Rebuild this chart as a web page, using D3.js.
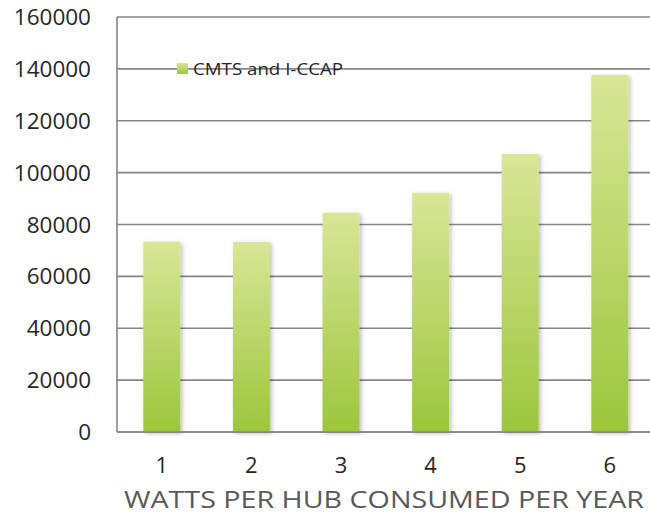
<!DOCTYPE html>
<html>
<head>
<meta charset="utf-8">
<script src="https://cdn.jsdelivr.net/npm/d3@7"></script>
<style>
  body { margin: 0; background: #fff; }
  svg { display: block; font-family: "Open Sans", sans-serif; }
</style>
</head>
<body>
<div id="chart"></div>
<script>
// data
const categories = ["1", "2", "3", "4", "5", "6"];
const values = [73400, 73300, 84500, 92200, 107200, 137600];
const seriesName = "CMTS and I-CCAP";
const yTicks = [0, 20000, 40000, 60000, 80000, 100000, 120000, 140000, 160000];
const xTitle = "WATTS PER HUB CONSUMED PER YEAR";

const width = 650, height = 516;
const plotLeft = 117, plotTop = 17, plotH = 415;
const step = 89.6;

const svg = d3.select("#chart")
	.append("svg")
	.attr("width", width)
	.attr("height", height);

const defs = svg.append("defs");
const grad = defs.append("linearGradient")
	.attr("id", "barGrad")
	.attr("x1", 0).attr("y1", 0).attr("x2", 0).attr("y2", 1);
grad.append("stop").attr("offset", "0%").attr("stop-color", "#d9e697");
grad.append("stop").attr("offset", "100%").attr("stop-color", "#9cc63b");

const legGrad = defs.append("linearGradient")
	.attr("id", "legGrad")
	.attr("x1", 0).attr("y1", 0).attr("x2", 0).attr("y2", 1);
legGrad.append("stop").attr("offset", "0%").attr("stop-color", "#d9e697");
legGrad.append("stop").attr("offset", "100%").attr("stop-color", "#9cc63b");

const shadow = defs.append("filter")
	.attr("id", "shadow")
	.attr("x", "-30%").attr("y", "-10%").attr("width", "160%").attr("height", "120%");
shadow.append("feDropShadow")
	.attr("dx", 2).attr("dy", 1.5)
	.attr("stdDeviation", 2)
	.attr("flood-color", "#000")
	.attr("flood-opacity", 0.25);

const x = d3.scaleBand()
	.domain(categories)
	.range([plotLeft, plotLeft + step * categories.length])
	.padding(0);

const y = d3.scaleLinear()
	.domain([0, 160000])
	.range([plotTop + plotH, plotTop]);

// gridlines
svg.append("g")
	.selectAll("line")
	.data(yTicks)
	.join("line")
	.attr("x1", plotLeft)
	.attr("x2", width)
	.attr("y1", (d) => y(d))
	.attr("y2", (d) => y(d))
	.attr("stroke", "#868686")
	.attr("stroke-width", 1.6);

// left axis line
svg.append("line")
	.attr("x1", plotLeft).attr("x2", plotLeft)
	.attr("y1", y(160000)).attr("y2", y(0))
	.attr("stroke", "#868686")
	.attr("stroke-width", 1.6);

// y tick labels
svg.append("g")
	.selectAll("text")
	.data(yTicks)
	.join("text")
	.attr("x", 91)
	.attr("y", (d) => y(d) + 8)
	.attr("text-anchor", "end")
	.attr("font-size", "22.5px")
	.attr("fill", "#262626")
	.text((d) => d);

// bars
const barW = 37;
svg.append("g")
	.selectAll("rect")
	.data(values)
	.join("rect")
	.attr("x", (d, i) => x(categories[i]) + (x.bandwidth() - barW) / 2)
	.attr("y", (d) => y(d))
	.attr("width", barW)
	.attr("height", (d) => y(0) - y(d))
	.attr("fill", "url(#barGrad)")
	.attr("filter", "url(#shadow)");

// redraw the base line over the bar shadows
svg.append("line")
	.attr("x1", plotLeft).attr("x2", width)
	.attr("y1", y(0)).attr("y2", y(0))
	.attr("stroke", "#868686")
	.attr("stroke-width", 1.6);

// x labels
const xAxis = svg.append("g")
	.attr("transform", `translate(0,${y(0)})`)
	.call(d3.axisBottom(x).tickSize(0).tickPadding(0));
xAxis.select(".domain").remove();
xAxis.selectAll("text")
	.attr("dy", null)
	.attr("y", 41)
	.attr("font-family", "Open Sans, sans-serif")
	.attr("font-size", "22px")
	.attr("fill", "#262626");

// axis title
svg.append("text")
	.attr("x", 124)
	.attr("y", 508)
	.attr("font-size", "24px")
	.attr("fill", "#595959")
	.attr("textLength", 520)
	.attr("lengthAdjust", "spacingAndGlyphs")
	.text(xTitle);

// legend
svg.append("rect")
	.attr("x", 177)
	.attr("y", 63)
	.attr("width", 11)
	.attr("height", 11)
	.attr("fill", "url(#legGrad)");
svg.append("text")
	.attr("x", 193)
	.attr("y", 74.5)
	.attr("font-size", "16.5px")
	.attr("fill", "#262626")
	.attr("textLength", 150)
	.attr("lengthAdjust", "spacingAndGlyphs")
	.text(seriesName);
</script>
</body>
</html>
